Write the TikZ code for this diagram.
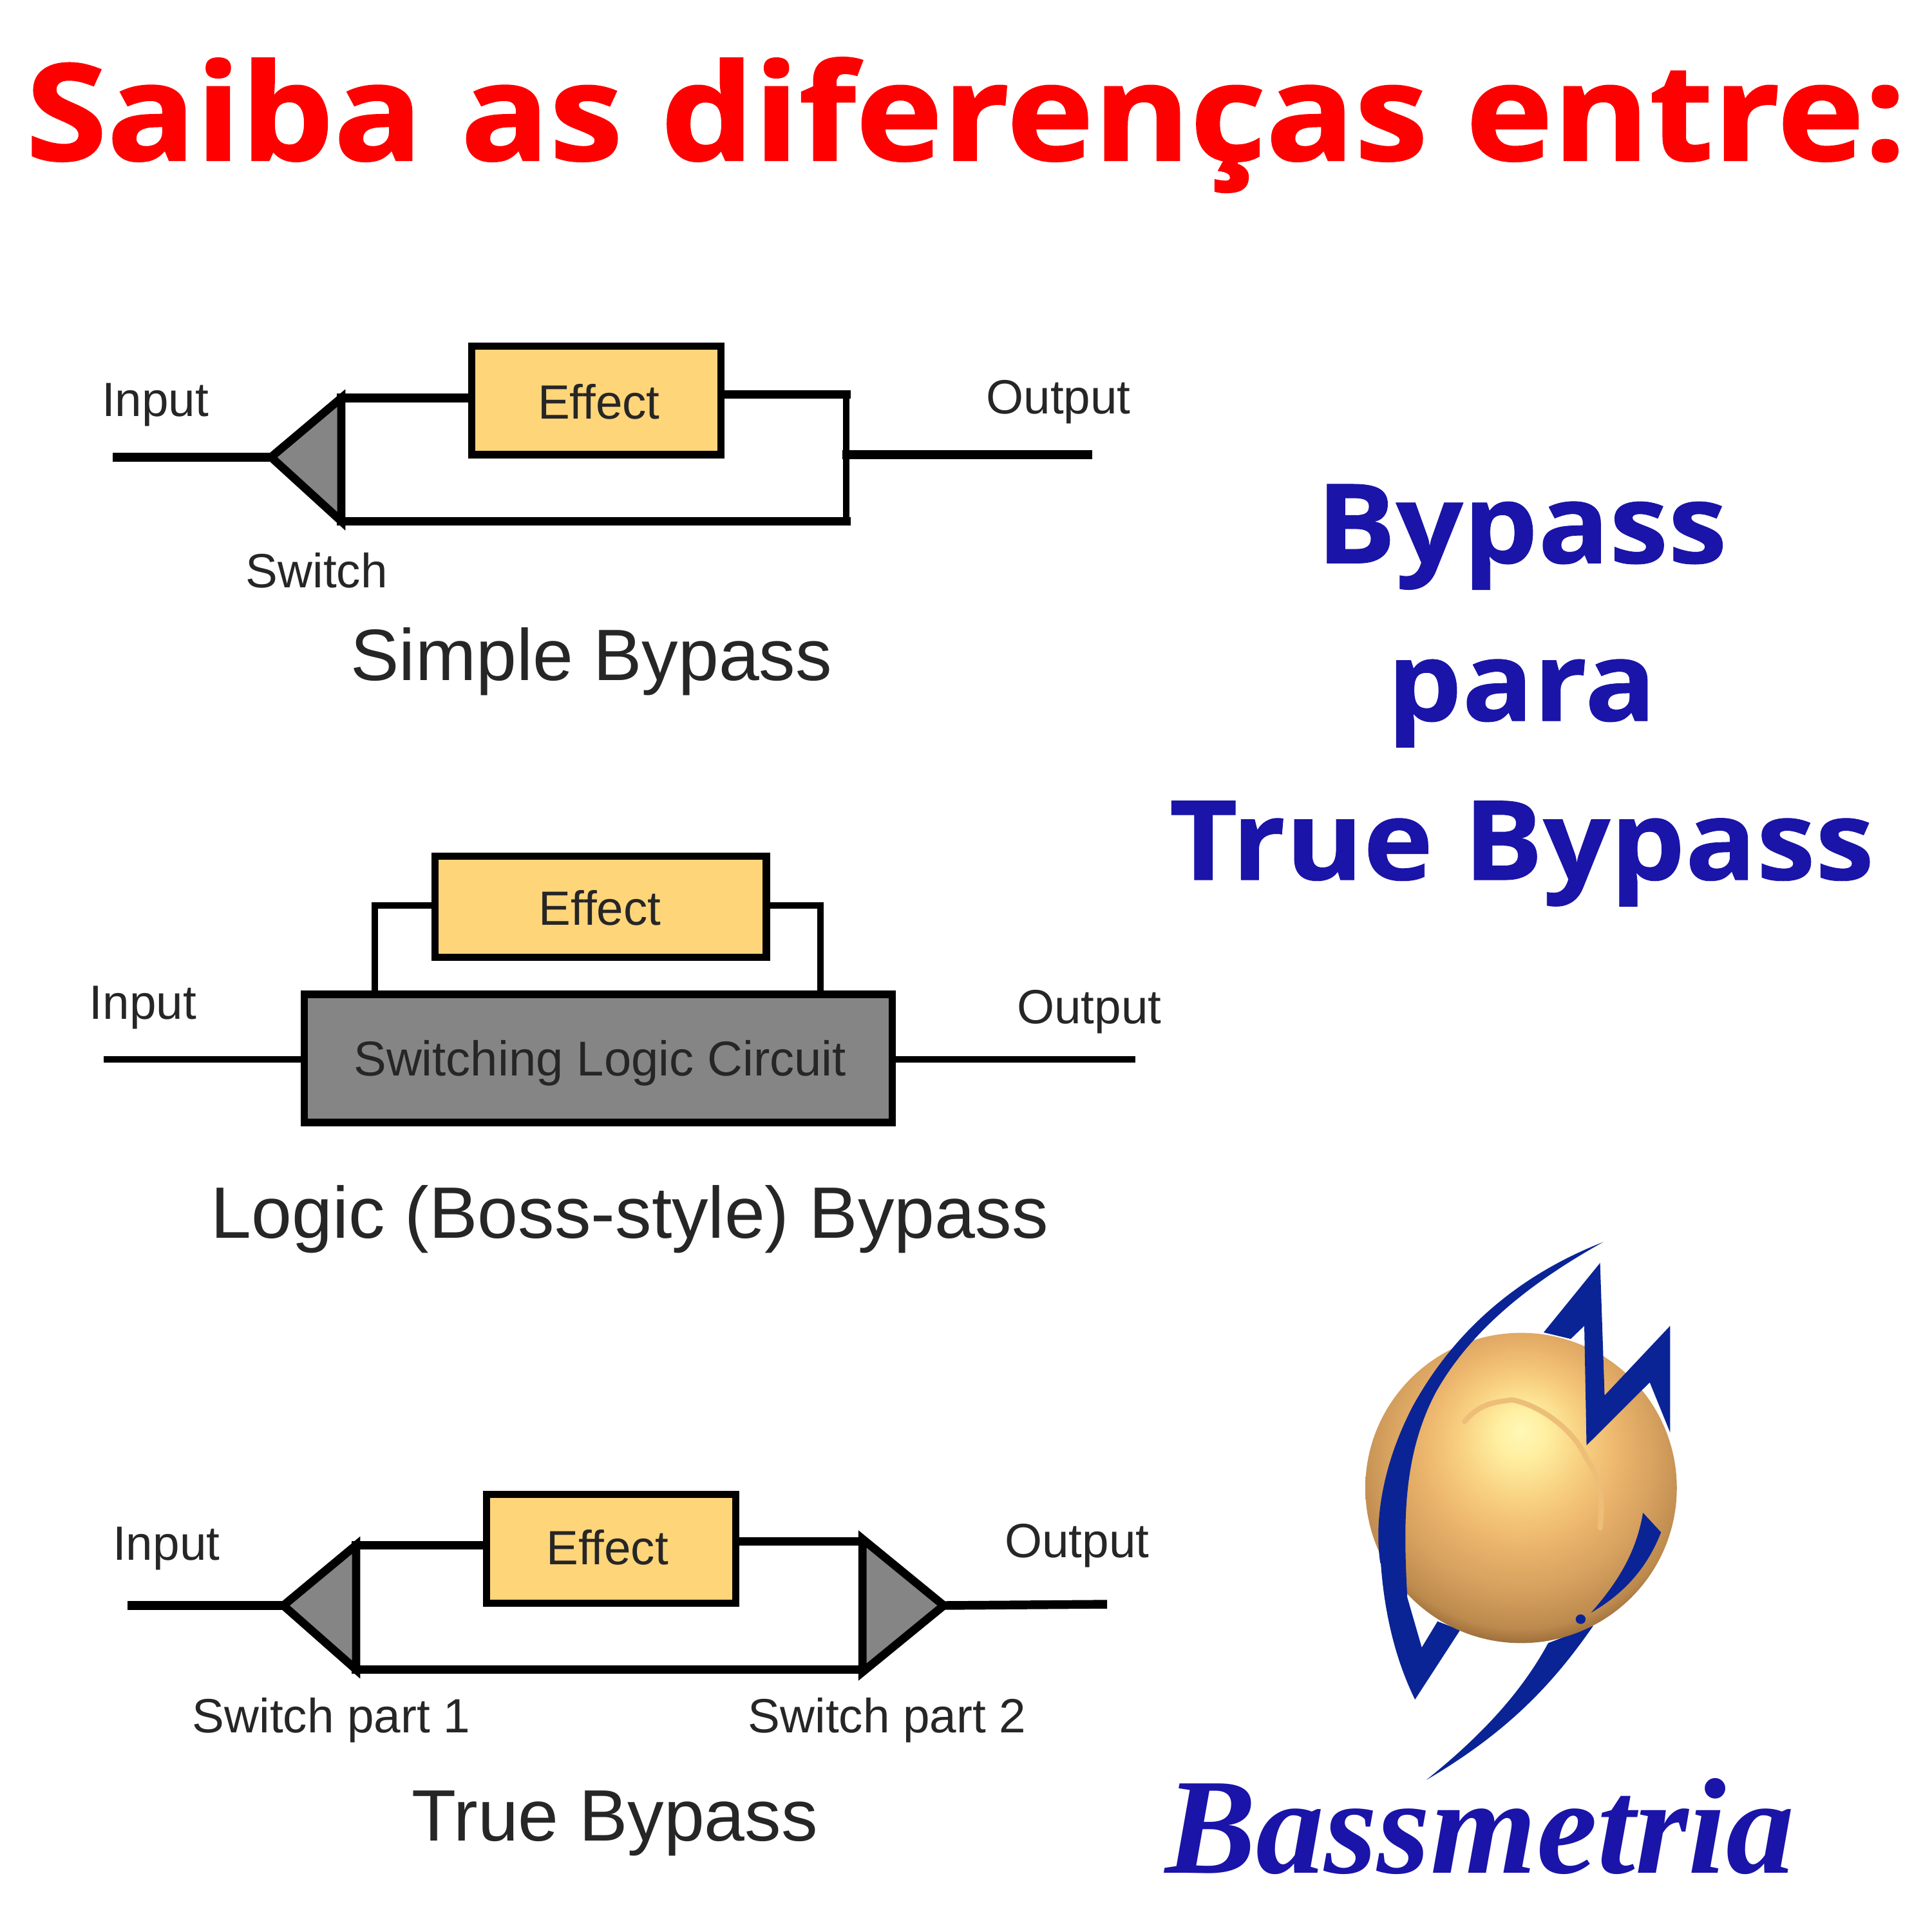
\documentclass[tikz,border=0pt]{standalone}
\usepackage{fontspec}
\setmainfont{Liberation Sans}
\newfontfamily\titlefont{Open Sans}[BoldFeatures={FakeBold=1.2,FakeStretch=1.095}]
\newfontfamily\headfont{Open Sans}[BoldFeatures={FakeBold=0.5,FakeStretch=1.07}]
\newfontfamily\logofont{Liberation Serif}
\usepackage{tikz}
\usetikzlibrary{positioning}
\definecolor{titlered}{HTML}{FF0000}
\definecolor{headblue}{HTML}{1A14A8}
\definecolor{logoblue}{HTML}{0A2496}
\definecolor{boxyellow}{HTML}{FFD57A}
\definecolor{switchgrey}{HTML}{858585}
\definecolor{creasetan}{HTML}{EDBE78}
\definecolor{labeltext}{HTML}{262626}
\definecolor{balla}{HTML}{FFF8B8}
\definecolor{ballb}{HTML}{FFEFA0}
\definecolor{ballc}{HTML}{F8CF80}
\definecolor{balld}{HTML}{EBB46C}
\definecolor{balle}{HTML}{D5A05E}
\definecolor{ballf}{HTML}{BD8A4E}
\definecolor{ballg}{HTML}{8F6230}
\definecolor{ballh}{HTML}{66401A}
\pgfdeclareradialshading{logoball}{\pgfpoint{0bp}{9.5bp}}{%
  color(0bp)=(balla);
  color(4bp)=(ballb);
  color(10bp)=(ballc);
  color(16bp)=(balld);
  color(22bp)=(balle);
  color(27bp)=(ballf);
  color(30bp)=(ballg);
  color(34.5bp)=(ballh);
  color(50bp)=(ballh)}

\begin{document}
\begin{tikzpicture}[
  x=0.01cm, y=-0.01cm,
  wire/.style={line width=2pt, line cap=rect, line join=miter},
  thinwire/.style={line width=1.5pt, line cap=rect, line join=miter},
  switchtri/.style={line width=1.9pt, line join=miter, fill=switchgrey},
  effectbox/.style={draw, line width=1.7pt, fill=boxyellow, inner sep=0pt},
  lbl/.style={anchor=base, inner sep=0pt, text=labeltext, font=\fontsize{11.1}{13}\selectfont},
  caption/.style={anchor=base, inner sep=0pt, text=labeltext, font=\fontsize{16.8}{20}\selectfont},
  heading/.style={anchor=base, inner sep=0pt, text=headblue, font=\headfont\bfseries\fontsize{25.5}{30}\selectfont}
]
\useasboundingbox (0,0) rectangle (1568,1568);

\node[anchor=base, inner sep=0pt, text=titlered, font=\titlefont\bfseries\fontsize{31}{38}\selectfont] (title) at (784,130) {Saiba as diferenças entre:};
\node[heading] (hd1) at (1235,457) {Bypass};
\node[heading] (hd2) at (1235,585) {para};
\node[heading] (hd3) at (1235,714) {True Bypass};

% Simple Bypass
\node[effectbox, minimum width=2.02cm, minimum height=0.88cm] (fx1) at (484,325) {};
\node[lbl] (fx1t) at (486,340) {Effect};
\coordinate (in1) at (95,371);
\coordinate (sw1) at (220,371);
\coordinate (sw1a) at (277,323);
\coordinate (sw1b) at (277,423);
\coordinate (up1) at (687,320);
\coordinate (dn1) at (687,423);
\coordinate (jn1) at (687,369);
\coordinate (out1) at (883,369);
\draw[switchtri] (sw1) -- (sw1a) -- (sw1b) -- cycle;
\draw[wire] (in1) -- (sw1);
\draw[wire] (sw1a) -- (sw1a -| fx1.west);
\draw[wire] (up1 -| fx1.east) -- (up1);
\draw[thinwire] (up1) -- (dn1);
\draw[wire] (dn1) -- (sw1b);
\draw[wire] (jn1) -- (out1);
\node[lbl] (lin1) at (126,338) {Input};
\node[lbl] (lout1) at (859,336) {Output};
\node[lbl] (lsw1) at (257,477) {Switch};
\node[caption] (cap1) at (480,552) {Simple Bypass};

% Logic bypass
\node[effectbox, minimum width=2.69cm, minimum height=0.82cm] (fx2) at (487.5,736) {};
\node[lbl] (fx2t) at (487,751) {Effect};
\node[draw, line width=1.7pt, fill=switchgrey, inner sep=0pt, minimum width=4.77cm, minimum height=1.04cm] (logic) at (485.5,859) {};
\node[lbl, font=\fontsize{11.3}{13}\selectfont] (logict) at (487,873) {Switching Logic Circuit};
\coordinate (in2) at (87,860);
\coordinate (out2) at (919,860);
\coordinate (lf2) at (304,735);
\coordinate (rt2) at (666,735);
\draw[thinwire] (lf2 |- logic.north) -- (lf2) -- (lf2 -| fx2.west);
\draw[thinwire] (rt2 -| fx2.east) -- (rt2) -- (rt2 |- logic.north);
\draw[thinwire] (in2) -- (in2 -| logic.west);
\draw[thinwire] (out2 -| logic.east) -- (out2);
\node[lbl] (lin2) at (116,827) {Input};
\node[lbl] (lout2) at (884,831) {Output};
\node[caption] (cap2) at (511,1005) {Logic (Boss-style) Bypass};

% True Bypass
\node[effectbox, minimum width=2.02cm, minimum height=0.88cm] (fx3) at (496,1257) {};
\node[lbl] (fx3t) at (493,1270) {Effect};
\coordinate (in3) at (107,1303);
\coordinate (sw3) at (230,1303);
\coordinate (sw3a) at (289,1254);
\coordinate (sw3b) at (289,1355);
\coordinate (tw3) at (766,1303);
\coordinate (tw3a) at (700,1249);
\coordinate (tw3b) at (700,1357);
\coordinate (up3) at (700,1251);
\coordinate (dn3) at (700,1355);
\coordinate (out3) at (895,1302);
\draw[switchtri] (sw3) -- (sw3a) -- (sw3b) -- cycle;
\draw[switchtri] (tw3) -- (tw3a) -- (tw3b) -- cycle;
\draw[wire] (in3) -- (sw3);
\draw[wire] (sw3a) -- (sw3a -| fx3.west);
\draw[wire] (up3 -| fx3.east) -- (up3);
\draw[wire] (sw3b) -- (dn3);
\draw[wire] (tw3) -- (out3);
\node[lbl] (lin3) at (135,1266) {Input};
\node[lbl] (lout3) at (874,1264) {Output};
\node[lbl] (lsw3a) at (269,1406) {Switch part 1};
\node[lbl] (lsw3b) at (720,1406) {Switch part 2};
\node[caption] (cap3) at (499,1494) {True Bypass};

% logo
\begin{scope}[shift={(930.4,993.2)}, x=0.00366cm, y=-0.003525cm]
  \fill[logoblue] (518,760) .. controls (525,900) and (555,1010) .. (595,1095) -- (695,935) -- (645,915) -- (610,975) -- (578,860) -- cycle;
  \fill[logoblue] (620,1280) .. controls (800,1170) and (900,1060) .. (990,925) -- (890,965) .. controls (830,1080) and (740,1180) .. cycle;
  \shade[shading=logoball] (830,608) ellipse [x radius=345, y radius=357];
  \draw[creasetan, line width=1.2pt, line cap=round] (705,455) .. controls (740,410) and (780,410) .. (810,405) .. controls (880,420) and (950,480) .. (975,540) .. controls (1010,590) and (1010,650) .. (1005,700);
  \fill[logoblue] (1012,42) .. controls (820,120) and (680,250) .. (590,420) .. controls (520,560) and (505,690) .. (518,780) -- (578,860) .. controls (570,700) and (565,540) .. (640,390) .. controls (720,240) and (860,130) .. cycle;
  \fill[logoblue] (880,250) -- (1005,90) -- (1015,395) -- (1160,235) -- (1160,480) -- (1115,365) -- (975,510) -- (970,235) -- (940,265) -- cycle;
  \fill[logoblue] (1100,665) -- (1140,710) .. controls (1110,790) and (1060,850) .. (985,895) .. controls (1040,830) and (1085,760) .. cycle;
  \fill[logoblue] (962,910) circle [x radius=11, y radius=11];
\end{scope}
\node[anchor=base, inner sep=0pt, text=headblue, font=\logofont\bfseries\itshape\fontsize{31.5}{36}\selectfont] (brand) at (1201,1520) {Bassmetria};
\end{tikzpicture}
\end{document}
